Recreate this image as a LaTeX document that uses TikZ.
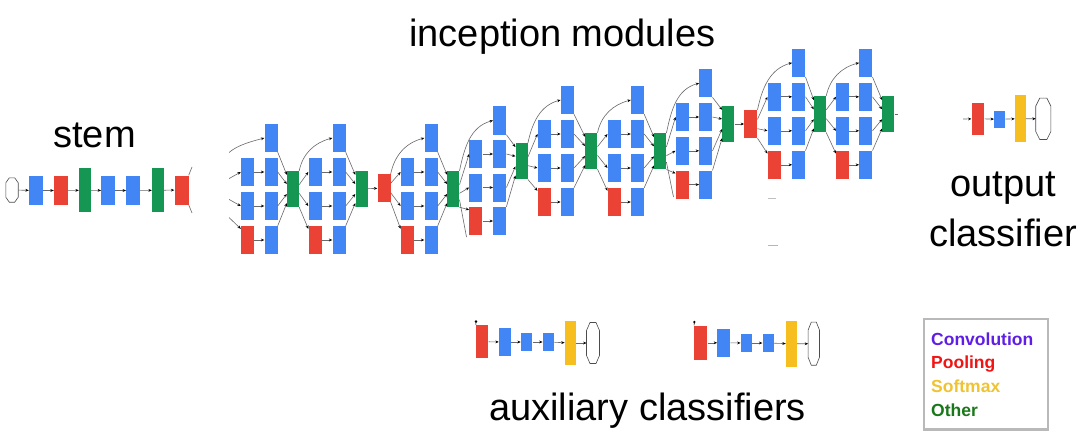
\documentclass[tikz,border=0pt]{standalone}
\usepackage{fontspec}
\setmainfont{Liberation Sans}
\usetikzlibrary{arrows.meta}
\definecolor{gblue}{RGB}{66,133,244}
\definecolor{gred}{RGB}{234,67,53}
\definecolor{ggreen}{RGB}{22,150,83}
\definecolor{gyellow}{RGB}{246,190,30}
\definecolor{edgec}{RGB}{105,105,105}
\definecolor{lconv}{RGB}{95,30,230}
\definecolor{lpool}{RGB}{240,20,20}
\definecolor{lsoft}{RGB}{240,195,50}
\definecolor{lother}{RGB}{25,120,25}
\definecolor{legframe}{RGB}{185,185,185}
\tikzset{
  box/.style={rectangle, inner sep=0pt, draw=none},
  conv/.style={box, fill=gblue, minimum width=13pt, minimum height=28pt},
  poolbox/.style={box, fill=gred, minimum width=13pt, minimum height=28pt},
  concat/.style={box, fill=ggreen, minimum width=12pt, minimum height=36pt},
  tallgreen/.style={box, fill=ggreen, minimum width=12pt, minimum height=44pt},
  fcbox/.style={box, fill=gblue, minimum width=11.5pt, minimum height=17.3pt},
  softbox/.style={box, fill=gyellow, minimum width=11pt, minimum height=44pt},
  edge/.style={draw=edgec, line width=0.6pt, -{Stealth[length=3.4pt,width=2.8pt,color=black]}},
  plainedge/.style={draw=edgec, line width=0.6pt},
  octline/.style={draw=black!70, line width=0.6pt, fill=white},
  big/.style={font=\fontsize{38}{40}\selectfont, anchor=base, inner sep=0pt},
  legtext/.style={font=\bfseries\fontsize{17.5}{20}\selectfont, anchor=base west, inner sep=0pt},
}
% module: name, col1 x, col2 x, row1 y, row step, concat x, concat y
\newcommand{\incmod}[7]{%
  \node[conv] (#1t) at (#3,#4) {};
  \node[conv] (#1a2) at (#2,{#4+#5}) {};
  \node[conv] (#1b2) at (#3,{#4+#5}) {};
  \node[conv] (#1a3) at (#2,{#4+2*#5}) {};
  \node[conv] (#1b3) at (#3,{#4+2*#5}) {};
  \node[poolbox] (#1a4) at (#2,{#4+3*#5}) {};
  \node[conv] (#1b4) at (#3,{#4+3*#5}) {};
  \node[concat] (#1c) at (#6,#7) {};
  \draw[edge] (#1a2) -- (#1b2);
  \draw[edge] (#1a3) -- (#1b3);
  \draw[edge] (#1a4) -- (#1b4);
  \draw[edge] (#1t.south east) -- ([yshift=-4pt]#1c.north west);
  \draw[edge] (#1b2.east) -- ([yshift=5pt]#1c.west);
  \draw[edge] (#1b3.east) -- ([yshift=-5pt]#1c.west);
  \draw[edge] (#1b4.north east) -- ([yshift=4pt]#1c.south west);
}
% fan from a source node into a module
\newcommand{\infan}[2]{%
  \draw[edge] (#1.north east) to[out=78,in=195] (#2t.west);
  \draw[edge] (#1.35) -- (#2a2.west);
  \draw[edge] (#1.-35) -- (#2a3.west);
  \draw[edge] (#1.south east) -- ([yshift=-3pt]#2a4.north west);
}
% octagon: name, x, y, w, h, chamfer x, chamfer y
\newcommand{\octnode}[7]{%
  \node[inner sep=0pt, minimum width=#4pt, minimum height=#5pt] (#1) at (#2,#3) {};
  \draw[octline] ([xshift=#6pt]#1.north west) -- ([xshift=-#6pt]#1.north east)
    -- ([yshift=-#7pt]#1.north east) -- ([yshift=#7pt]#1.south east)
    -- ([xshift=-#6pt]#1.south east) -- ([xshift=#6pt]#1.south west)
    -- ([yshift=#7pt]#1.south west) -- ([yshift=-#7pt]#1.north west) -- cycle;
}
\begin{document}
\begin{tikzpicture}[x=1pt,y=-1pt]
\useasboundingbox (0,0) rectangle (1080,436);
\fill[white] (0,0) rectangle (1080,436);

% ---------- titles ----------
\node[big] (tincep) at (562.5,47) {inception modules};
\node[big] (tstem) at (94.5,147) {stem};
\node[big] (tout1) at (1003,196) {output};
\node[big] (tout2) at (1003,246) {classifier};
\node[big] (taux) at (647.5,420) {auxiliary classifiers};

% ---------- stem ----------
\octnode{s0}{12}{190}{12}{24}{3.5}{5}
\node[conv, minimum width=14pt, minimum height=29pt] (s1) at (36,190.5) {};
\node[poolbox, minimum width=14pt, minimum height=29pt] (s2) at (61,190.5) {};
\node[tallgreen] (s3) at (85,190.3) {};
\node[conv, minimum width=13.5pt, minimum height=29pt] (s4) at (108,190.5) {};
\node[conv, minimum width=13.5pt, minimum height=29pt] (s5) at (133,190.5) {};
\node[tallgreen] (s6) at (158,190.3) {};
\node[poolbox, minimum width=14pt, minimum height=29pt] (s7) at (181.5,190) {};
\draw[edge] (s0) -- (s1);
\draw[edge] (s1) -- (s2);
\draw[edge] (s2) -- (s3);
\draw[edge] (s3) -- (s4);
\draw[edge] (s4) -- (s5);
\draw[edge] (s5) -- (s6);
\draw[edge] (s6) -- (s7);
\coordinate (stubA) at (192,167);
\coordinate (stubB) at (192,213);
\draw[plainedge] (s7.north east) -- (stubA);
\draw[plainedge] (s7.south east) -- (stubB);

% ---------- inception modules ----------
\incmod{m3a}{247.5}{271}{138}{34}{293}{189}
\incmod{m3b}{315}{339}{138}{34}{361.5}{189}
\node[poolbox] (p3) at (384,188) {};
\incmod{m4a}{407.3}{431}{138}{34}{453.3}{189}
\incmod{m4b}{475.8}{499.7}{120.5}{33.5}{521.7}{161.3}
\incmod{m4c}{544.2}{567.3}{100}{34}{591.3}{151}
\incmod{m4d}{614.2}{637.5}{100}{34}{660.2}{151.3}
\incmod{m4e}{682.3}{705.8}{83.2}{33.8}{728.3}{124}
\node[poolbox] (p4) at (750.8,124) {};
\incmod{m5a}{774.2}{798.8}{62.8}{34}{820}{114.3}
\incmod{m5b}{842.7}{865.8}{62.8}{34}{888.3}{114.3}

\begin{scope}
  \clip (229,0) rectangle (1080,436);
  \node[concat, fill=none] (in3a) at (212,189) {};
  \infan{in3a}{m3a}
\end{scope}
\infan{m3ac}{m3b}
\draw[edge] (m3bc) -- (p3);
\infan{p3}{m4a}
\infan{m4ac}{m4b}
\infan{m4bc}{m4c}
\infan{m4cc}{m4d}
\infan{m4dc}{m4e}
\draw[edge] (m4ec) -- (p4);
\infan{p4}{m5a}
\infan{m5ac}{m5b}
\coordinate (out5b) at (898,114.3);
\draw[plainedge] (m5bc) -- (out5b);
% cut branches toward the auxiliary classifiers
\coordinate (aux1cut) at (466.5,237);
\coordinate (aux2cut) at (673.5,197);
\draw[plainedge] (m4ac.-60) -- (aux1cut);
\draw[plainedge] (m4dc.-60) -- (aux2cut);
% small remnants
\draw[line width=1pt, black!25] (768,198) -- (776,198);
\draw[line width=1pt, orange!70] (768,245) -- (778,245);

% ---------- output classifier ----------
\coordinate (oin) at (963,119);
\node[poolbox, minimum width=12.7pt, minimum height=32pt] (op) at (978,118.8) {};
\node[fcbox, minimum width=11pt, minimum height=17pt] (ofc) at (999.7,119.2) {};
\node[softbox, minimum width=10.7pt, minimum height=47pt] (osm) at (1020.3,118.7) {};
\octnode{oout}{1043.3}{118.8}{14.7}{41}{4}{8}
\draw[edge] (oin) -- (op);
\draw[edge] (op) -- (ofc);
\draw[edge] (ofc) -- (osm);
\draw[edge] (osm) -- (oout);

% ---------- auxiliary classifiers ----------
\node[poolbox, minimum width=12.3pt, minimum height=33pt] (a1p) at (482.2,341.7) {};
\node[conv, minimum width=11.7pt, minimum height=27.5pt] (a1c) at (504.8,342) {};
\node[fcbox] (a1f1) at (526.7,342) {};
\node[fcbox] (a1f2) at (548.5,342) {};
\node[softbox] (a1s) at (570.3,343) {};
\octnode{a1o}{593}{343}{12.6}{40.6}{3.5}{8}
\coordinate (a1in) at (476,321.5);
\fill (a1in) circle (1.3pt);
\draw[plainedge, black] (a1in) -- (a1p.north west);
\draw[edge] (a1p) -- (a1c);
\draw[edge] (a1c) -- (a1f1);
\draw[edge] (a1f1) -- (a1f2);
\draw[edge] (a1f2) -- (a1s);
\draw[edge] (a1s) -- (a1o);

\node[poolbox, minimum width=13pt, minimum height=34.3pt] (a2p) at (700.8,342.8) {};
\node[conv, minimum width=12.7pt, minimum height=27.7pt] (a2c) at (723.7,342.8) {};
\node[fcbox] (a2f1) at (746.5,343) {};
\node[fcbox] (a2f2) at (768.3,343) {};
\node[softbox, minimum height=45.7pt] (a2s) at (791.5,343.8) {};
\octnode{a2o}{813.8}{343.7}{11}{42.7}{3.2}{8}
\coordinate (a2in) at (694.3,322);
\fill (a2in) circle (1.3pt);
\draw[plainedge, black] (a2in) -- (a2p.north west);
\draw[edge] (a2p) -- (a2c);
\draw[edge] (a2c) -- (a2f1);
\draw[edge] (a2f1) -- (a2f2);
\draw[edge] (a2f2) -- (a2s);
\draw[edge] (a2s) -- (a2o);

% ---------- legend ----------
\node[draw=legframe, line width=2.5pt, inner sep=0pt, minimum width=124pt, minimum height=110.5pt, anchor=north west] (leg) at (922.5,317.5) {};
\node[legtext, text=lconv] (lg1) at (931,345) {Convolution};
\node[legtext, text=lpool] (lg2) at (931,368) {Pooling};
\node[legtext, text=lsoft] (lg3) at (931,392) {Softmax};
\node[legtext, text=lother] (lg4) at (931,416.5) {Other};
\end{tikzpicture}
\end{document}
